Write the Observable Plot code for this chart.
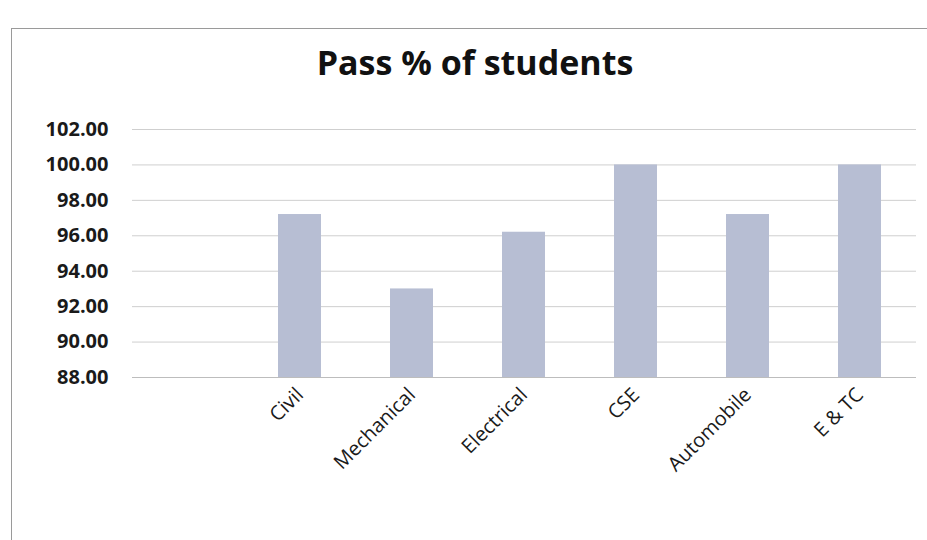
<!DOCTYPE html>
<html>
<head>
<meta charset="utf-8">
<script src="https://cdn.jsdelivr.net/npm/d3@7"></script>
<script src="https://cdn.jsdelivr.net/npm/@observablehq/plot@0.6"></script>
<style>
  html, body { margin: 0; padding: 0; background: #fff; }
  body { width: 927px; height: 540px; position: relative; overflow: hidden; font-family: "Open Sans", sans-serif; }
  #frame { position: absolute; left: 11px; top: 28px; width: 930px; height: 540px; border-left: 1.5px solid #9a9a9a; border-top: 1.5px solid #9a9a9a; box-sizing: border-box; }
  #title { position: absolute; left: 0; top: 37px; width: 950px; text-align: center; font: bold 34px "Open Sans", sans-serif; color: #111; line-height: 50px; }
  #chart { position: absolute; left: 0; top: 100px; }
</style>
</head>
<body>
<div id="frame"></div>
<div id="title">Pass % of students</div>
<div id="chart"></div>
<script>
const categories = ["Civil", "Mechanical", "Electrical", "CSE", "Automobile", "E & TC"];
const passPercent = [97.2, 93.0, 96.2, 100.0, 97.2, 100.0];
const yTicks = [88, 90, 92, 94, 96, 98, 100, 102];
const blankSlot = " ";

const data = categories.map((c, i) => ({category: c, value: passPercent[i]}));
const yMin = d3.min(yTicks), yMax = d3.max(yTicks);

const chart = Plot.plot({
  width: 927,
  height: 440,
  marginTop: 29,
  marginBottom: 163,
  marginLeft: 132,
  marginRight: 11,
  style: {fontFamily: "Open Sans, sans-serif", color: "#222", background: "transparent"},
  x: {domain: [blankSlot, ...categories], paddingInner: 0.616, paddingOuter: 0.308, label: null},
  y: {domain: [yMin, yMax], label: null},
  marks: [
    Plot.gridY(yTicks, {stroke: "#cfcfcf", strokeOpacity: 1, strokeWidth: 1}),
    Plot.barY(data, {x: "category", y1: yMin, y2: "value", fill: "#b7bed3"}),
    Plot.ruleY([yMin], {stroke: "#bdbdbd", strokeWidth: 1}),
    Plot.axisY(yTicks, {tickSize: 0, tickPadding: 24, tickFormat: d3.format(".2f"), fontSize: 20, fontWeight: "bold", fill: "#1a1a1a", label: null}),
    Plot.axisX([blankSlot, ...categories], {tickSize: 0, tickRotate: -45, tickPadding: 14, fontSize: 20, fill: "#1a1a1a", label: null, textAnchor: "end"})
  ]
});
document.getElementById("chart").appendChild(chart);
</script>
</body>
</html>
